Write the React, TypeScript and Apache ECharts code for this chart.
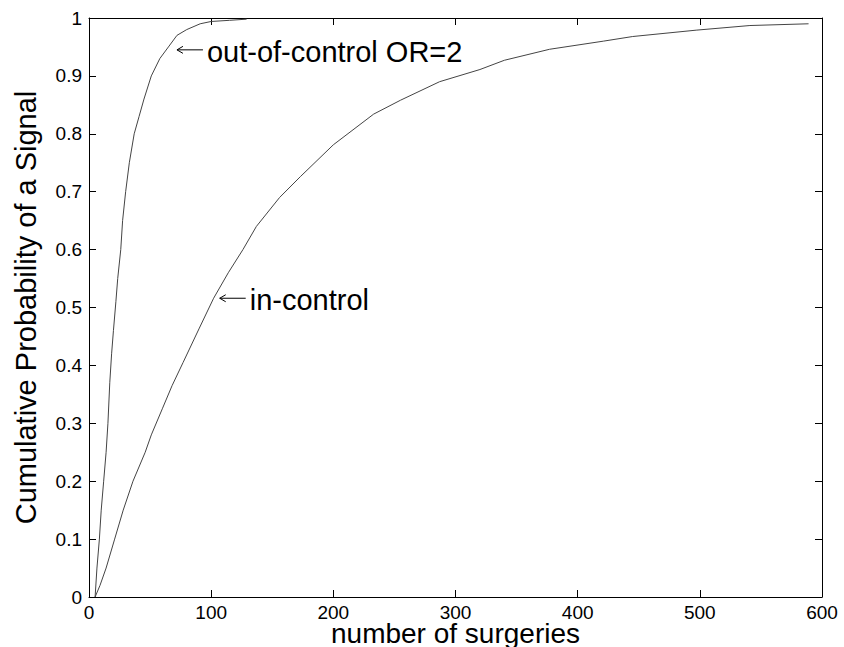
import React, { useEffect, useRef } from "react";
import * as echarts from "echarts";

// number of surgeries (x) vs cumulative probability of a signal (y)
const outOfControl: [number, number][] = [
  [5, 0], [6.5, 0.05], [8.5, 0.1], [10, 0.15], [12, 0.2], [14, 0.25], [15.5, 0.3],
  [17, 0.37], [18.5, 0.42], [20, 0.46], [22, 0.51], [23.5, 0.55], [26, 0.6],
  [27.5, 0.65], [30, 0.7], [33, 0.75], [37, 0.8], [41, 0.83], [45, 0.86],
  [51, 0.9], [58, 0.93], [65, 0.95], [72, 0.97], [80, 0.98], [91, 0.99],
  [100, 0.994], [115, 0.996], [129, 0.998],
];

const inControl: [number, number][] = [
  [5, 0], [9, 0.02], [14, 0.05], [21, 0.1], [28, 0.15], [36, 0.2], [46, 0.25],
  [51, 0.28], [60, 0.325], [68, 0.365], [77, 0.405], [90, 0.463], [102, 0.516],
  [114, 0.56], [126, 0.6], [137, 0.64], [156, 0.69], [173, 0.726], [200, 0.781],
  [233, 0.834], [255, 0.858], [287, 0.89], [320, 0.911], [340, 0.927],
  [377, 0.946], [421, 0.96], [445, 0.968], [497, 0.979], [541, 0.987], [589, 0.99],
];

const annotationLabels = ["out-of-control OR=2", "in-control"];
const annotationAnchors: [number, number][] = [[72, 0.945], [107, 0.516]];

const xName = "number of surgeries";
const yName = "Cumulative Probability of a Signal";

export default function App() {
  const ref = useRef<HTMLDivElement>(null);
  useEffect(() => {
    const chart = echarts.init(ref.current!, null, { renderer: "svg" });
    const font = "'Liberation Sans', Arial, Helvetica, sans-serif";
    const axisLine = { show: true, onZero: false, lineStyle: { color: "#000", width: 1 } };
    const tick = { show: true, inside: true, length: 7, lineStyle: { color: "#000", width: 1 } };
    const xBase = { type: "value", min: 0, max: 600, interval: 100, splitLine: { show: false } };
    const yBase = { type: "value", min: 0, max: 1, interval: 0.1, splitLine: { show: false } };
    chart.setOption({
      animation: false,
      backgroundColor: "#fff",
      grid: { left: 89, right: 22, top: 18, bottom: 50, containLabel: false, outerBoundsMode: "none" },
      xAxis: [
        {
          ...xBase,
          position: "bottom",
          axisLine,
          axisTick: tick,
          axisLabel: { color: "#000", fontSize: 19, fontFamily: font, margin: 6, lineHeight: 19 },
          name: xName,
          nameLocation: "middle",
          nameGap: 24,
          nameMoveOverlap: false,
          nameTextStyle: { color: "#000", fontSize: 28, fontFamily: font, lineHeight: 24 },
        },
        {
          ...xBase,
          position: "top",
          axisLine,
          axisTick: tick,
          axisLabel: { show: false },
        },
      ],
      yAxis: [
        {
          ...yBase,
          position: "left",
          axisLine,
          axisTick: tick,
          axisLabel: {
            color: "#000",
            fontSize: 19,
            fontFamily: font,
            margin: 7,
            formatter: (v: number) => String(Math.round(v * 10) / 10),
          },
          name: yName,
          nameLocation: "middle",
          nameGap: 49,
          nameMoveOverlap: false,
          nameTextStyle: { color: "#000", fontSize: 29, fontFamily: font },
        },
        {
          ...yBase,
          position: "right",
          axisLine,
          axisTick: tick,
          axisLabel: { show: false },
        },
      ],
      series: [
        {
          type: "line",
          name: "out-of-control OR=2",
          data: outOfControl,
          xAxisIndex: 0,
          yAxisIndex: 0,
          showSymbol: false,
          lineStyle: { color: "#444", width: 1 },
        },
        {
          type: "line",
          name: "in-control",
          data: inControl,
          xAxisIndex: 0,
          yAxisIndex: 0,
          showSymbol: false,
          lineStyle: { color: "#444", width: 1 },
        },
      ],
    });

    const graphics = annotationAnchors.map((a, i) => {
      const p = chart.convertToPixel({ gridIndex: 0 }, a) as number[];
      const px = p[0];
      const py = p[1];
      return {
        type: "group",
        children: [
          { type: "line", shape: { x1: px, y1: py, x2: px + 26, y2: py }, style: { stroke: "#000", lineWidth: 1 } },
          {
            type: "polyline",
            shape: { points: [[px + 6, py - 3.5], [px, py], [px + 6, py + 3.5]] },
            style: { stroke: "#000", lineWidth: 1, fill: null },
          },
          {
            type: "text",
            x: px + 30,
            y: py + 2,
            style: {
              text: annotationLabels[i],
              fontSize: 29,
              fontFamily: font,
              fill: "#000",
              verticalAlign: "middle",
              align: "left",
            },
          },
        ],
      };
    });
    chart.setOption({ graphic: graphics });

    return () => chart.dispose();
  }, []);
  return <div ref={ref} style={{ position: "fixed", left: 0, top: 0, width: 844, height: 647 }} />;
}
